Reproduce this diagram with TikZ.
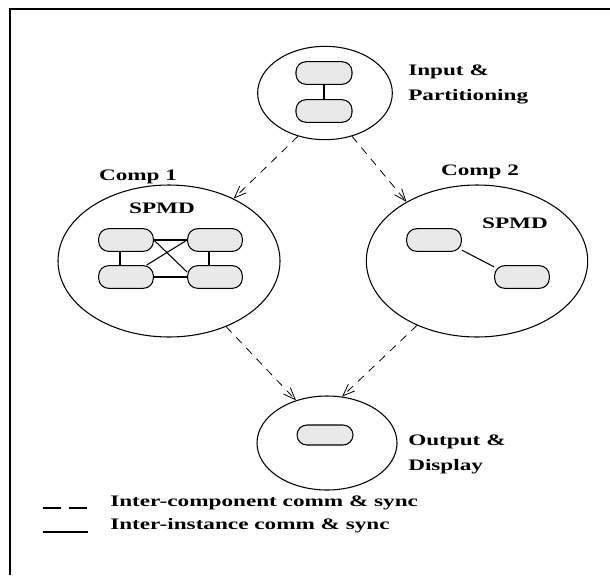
\documentclass[tikz,border=0pt]{standalone}
\usepackage{fontspec}
\setmainfont{Liberation Serif}[FakeStretch=1.45]
\usetikzlibrary{shapes.geometric,arrows.meta}
\tikzset{
  comp/.style={draw, ellipse, line width=0.8pt, inner sep=0pt},
  inst/.style={draw, rectangle, rounded corners=7.5pt, fill=gray!17, line width=0.8pt, minimum width=41pt, minimum height=17pt, inner sep=0pt},
  link/.style={line width=0.8pt},
  flow/.style={line width=0.6pt, dash pattern=on 6pt off 5pt, -{Straight Barb[length=9pt,width=7pt]}},
  lbl/.style={font=\bfseries\fontsize{12}{14}\selectfont, inner sep=0pt},
  lbll/.style={lbl, anchor=west}
}
\begin{document}
\begin{tikzpicture}[x=0.75pt,y=-0.75pt]
\useasboundingbox (0,0) rectangle (610,575);
% frame
\draw[line width=1.8pt] (10,575) -- (10,9) -- (610,9);

% top component
\node[comp, minimum width=101pt, minimum height=70pt] (top) at (325,93) {};
\node[inst, minimum width=42pt] (t1) at (324,73) {};
\node[inst, minimum width=42pt] (t2) at (324,111) {};
\draw[link] (t1) -- (t2);
\node[lbll] (inlbl1) at (408,72) {Input \&};
\node[lbll] (inlbl2) at (408,97) {Partitioning};

% comp 1
\node[comp, minimum width=166.5pt, minimum height=114pt] (c1) at (169,261) {};
\node[lbl] (c1lbl) at (138,177) {Comp 1};
\node[lbl] (c1spmd) at (162,208) {SPMD};
\node[inst] (a) at (126,240) {};
\node[inst] (b) at (215,240) {};
\node[inst] (c) at (126,277) {};
\node[inst] (d) at (215,277) {};
\draw[link] (a.east) -- (b.west);
\draw[link] (c.east) -- (d.west);
\draw[link] ([xshift=-4.5pt]a.south) -- ([xshift=-4.5pt]c.north);
\draw[link] ([xshift=-4.5pt]b.south) -- ([xshift=-4.5pt]d.north);
\draw[link] (a.east) -- (d.170);
\draw[link] (c.30) -- (b.west);

% comp 2
\node[comp, minimum width=166pt, minimum height=114pt] (c2) at (477,261) {};
\node[lbl] (c2lbl) at (480,172) {Comp 2};
\node[lbl] (c2spmd) at (515,223) {SPMD};
\node[inst] (e) at (434,240) {};
\node[inst] (f) at (522,277) {};
\draw[link] (e.-20) -- (f.160);

% bottom component
\node[comp, minimum width=105pt, minimum height=70.5pt] (bot) at (327,443) {};
\node[inst, minimum width=42pt, minimum height=15pt] (g) at (325,435) {};
\node[lbll] (outlbl1) at (408,442) {Output \&};
\node[lbll] (outlbl2) at (408,467) {Display};

% inter-component flows
\draw[flow] (top.238) -- (c1.44.6);
\draw[flow] (top.302) -- (c2.140);
\draw[flow] (c1.-49.7) -- (bot.126.4);
\draw[flow] (c2.227.3) -- (bot.72);

% legend
\coordinate (l1a) at (43,508);
\coordinate (l1b) at (88,508);
\coordinate (l2a) at (43,532);
\coordinate (l2b) at (88,532);
\draw[line width=0.9pt, dash pattern=on 13.5pt off 6pt] (l1a) -- (l1b);
\draw[line width=0.9pt] (l2a) -- (l2b);
\node[lbll] (leg1) at (110,503) {Inter-component comm \& sync};
\node[lbll] (leg2) at (110,526) {Inter-instance comm \& sync};
\end{tikzpicture}
\end{document}
